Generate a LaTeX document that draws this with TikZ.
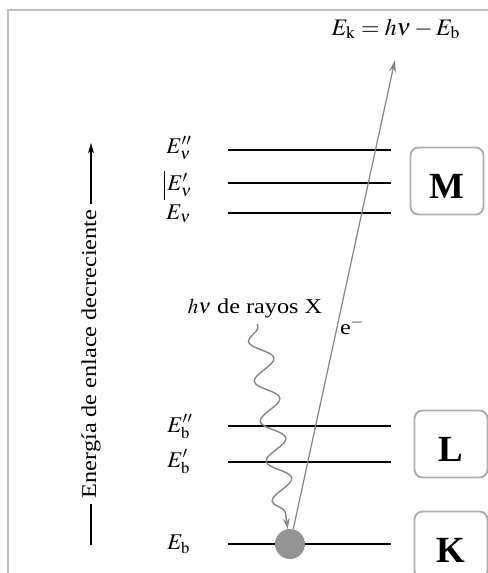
\documentclass[tikz,border=0pt]{standalone}
\usepackage{mathptmx}
\usepackage{fontspec}
\setmainfont{Liberation Serif}[FakeStretch=1.15]
\newfontfamily\shellfont{Liberation Serif}
\usepackage{tikz}
\usetikzlibrary{positioning, arrows.meta, decorations.pathmorphing}

\definecolor{framegray}{gray}{0.74}
\definecolor{boxgray}{gray}{0.68}
\definecolor{linegray}{gray}{0.52}
\definecolor{ballgray}{gray}{0.58}

\begin{document}
\begin{tikzpicture}[
  x=0.2mm, y=-0.2mm,
  font=\fontsize{12}{14}\selectfont,
  level/.style={line width=0.8pt},
  lvl/.style={anchor=west, inner sep=0pt, font=\fontsize{12.8}{14}\selectfont},
  shell/.style={draw=boxgray, line width=1.1pt, rounded corners=1.6mm,
    minimum width=14.6mm, minimum height=13.4mm,
    font=\shellfont\fontsize{21}{24}\selectfont\bfseries, text height=19.5pt, text depth=0pt},
  earrow/.style={draw=linegray, line width=0.7pt, -{Stealth[length=7pt,width=4pt]}},
  wave/.style={draw=linegray, line width=0.8pt, -{Stealth[length=6pt,width=4pt]},
    decorate, decoration={snake, mirror, amplitude=6.5pt, segment length=23pt,
      pre length=2pt, post length=7pt}},
  axarrow/.style={line width=0.8pt, -{Stealth[length=6pt,width=3.5pt]}},
]
  \useasboundingbox (0,0) rectangle (488,573);
  \clip (0,0) rectangle (488,573);

  % outer frame
  \draw[framegray, line width=1.1pt] (8,10) rectangle (500,590);

  % energy levels
  \foreach \y in {150,183,213,426,462,544}
    \draw[level] (228,\y) -- (391,\y);

  % level labels
  \node[lvl] (evpp) at (166,148) {$E''_\nu$};
  \node[lvl] (evp)  at (167,185) {$E'_\nu$};
  \node[lvl] (ev)   at (166,214) {$E_\nu$};
  \node[lvl] (ebpp) at (167,427) {$E''_{\mathrm{b}}$};
  \node[lvl] (ebp)  at (167,462) {$E'_{\mathrm{b}}$};
  \node[lvl] (eb)   at (167,544) {$E_{\mathrm{b}}$};
  \draw[line width=0.7pt] ([xshift=-0.5mm]evp.west) ++(0,-14) -- ++(0,29);

  % shells
  \node[shell] (shM) at (447,181) {M};
  \node[shell] (shL) at (451,444) {L};
  \node[shell] (shK) at (451,545) {K};

  % K electron
  \node[circle, fill=ballgray, minimum size=6mm, inner sep=0pt] (ball) at (290,544) {};

  % photoelectron
  \node[font=\fontsize{13.5}{15}\selectfont] (ek) at (396,29) {$E_{\mathrm{k}} = h\nu - E_{\mathrm{b}}$};
  \coordinate (etip) at (395,60);
  \draw[earrow] (ball) -- (etip);
  \node (elec) at (352,326) {e$^{-}$};

  % incoming x-ray photon
  \node (xray) at (255,308) {$h\nu$ de rayos X};
  \draw[wave] (xray) -- (ball);

  % binding energy axis
  \node[rotate=90, inner sep=3pt] (axis) at (91,354) {Energía de enlace decreciente};
  \coordinate (axbot) at (91,545);
  \coordinate (axtop) at (91,143);
  \draw[line width=0.8pt] (axis.west) -- (axbot);
  \draw[axarrow] (axis.east) -- (axtop);
\end{tikzpicture}
\end{document}
